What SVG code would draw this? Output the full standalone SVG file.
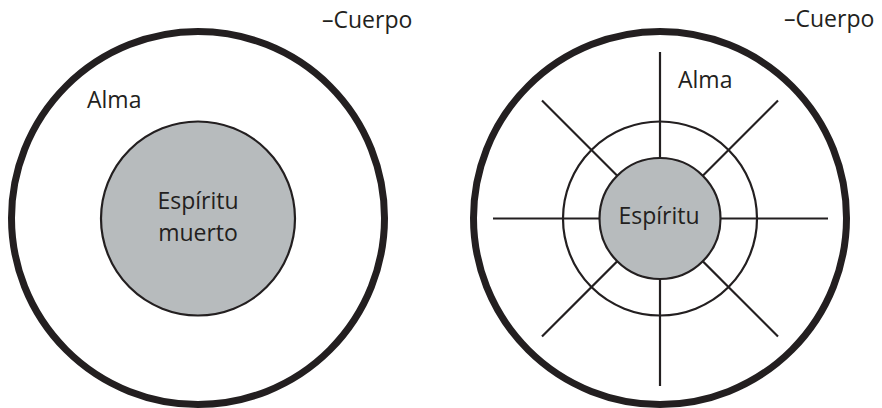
<svg xmlns="http://www.w3.org/2000/svg" width="882" height="408" viewBox="0 0 882 408">
  <style>
    .body { fill: none; stroke: #231f20; stroke-width: 7; }
    .ring { fill: none; stroke: #231f20; stroke-width: 2.2; }
    .spirit { fill: #b7bbbd; stroke: #231f20; stroke-width: 2.2; }
    .ray { stroke: #231f20; stroke-width: 2.2; }
    .lbl { font-family: "Open Sans", "Noto Sans", sans-serif; font-size: 23px; fill: #231f20; }
    .mid { text-anchor: middle; }
  </style>
  <rect width="882" height="408" fill="#ffffff"/>

  <!-- Left figure: dead spirit -->
  <g id="left-body">
    <circle class="body" cx="198" cy="218" r="186.5"/>
    <text class="lbl" x="322" y="28">–Cuerpo</text>
  </g>
  <g id="left-soul">
    <text class="lbl" x="87" y="108">Alma</text>
  </g>
  <g id="left-spirit">
    <circle class="spirit" cx="198" cy="218.5" r="97"/>
    <text class="lbl mid" x="198" y="209">Espíritu</text>
    <text class="lbl mid" x="198" y="241">muerto</text>
  </g>

  <!-- Right figure: living spirit radiating through the soul -->
  <g id="connectors">
    <line class="ray" x1="660" y1="218.5" x2="660" y2="52"/>
    <line class="ray" x1="660" y1="218.5" x2="660" y2="386"/>
    <line class="ray" x1="660" y1="218.5" x2="493" y2="218.5"/>
    <line class="ray" x1="660" y1="218.5" x2="828" y2="218.5"/>
    <line class="ray" x1="660" y1="218.5" x2="542" y2="100.5"/>
    <line class="ray" x1="660" y1="218.5" x2="778" y2="100.5"/>
    <line class="ray" x1="660" y1="218.5" x2="542" y2="336.5"/>
    <line class="ray" x1="660" y1="218.5" x2="778" y2="336.5"/>
  </g>
  <g id="right-body">
    <circle class="body" cx="660" cy="218" r="186.5"/>
    <text class="lbl" x="784" y="27">–Cuerpo</text>
  </g>
  <g id="right-soul">
    <circle class="ring" cx="660" cy="218.5" r="97"/>
    <text class="lbl" x="678" y="88">Alma</text>
  </g>
  <g id="right-spirit">
    <circle class="spirit" cx="660" cy="218.5" r="60.5"/>
    <text class="lbl mid" x="659" y="224">Espíritu</text>
  </g>
</svg>
